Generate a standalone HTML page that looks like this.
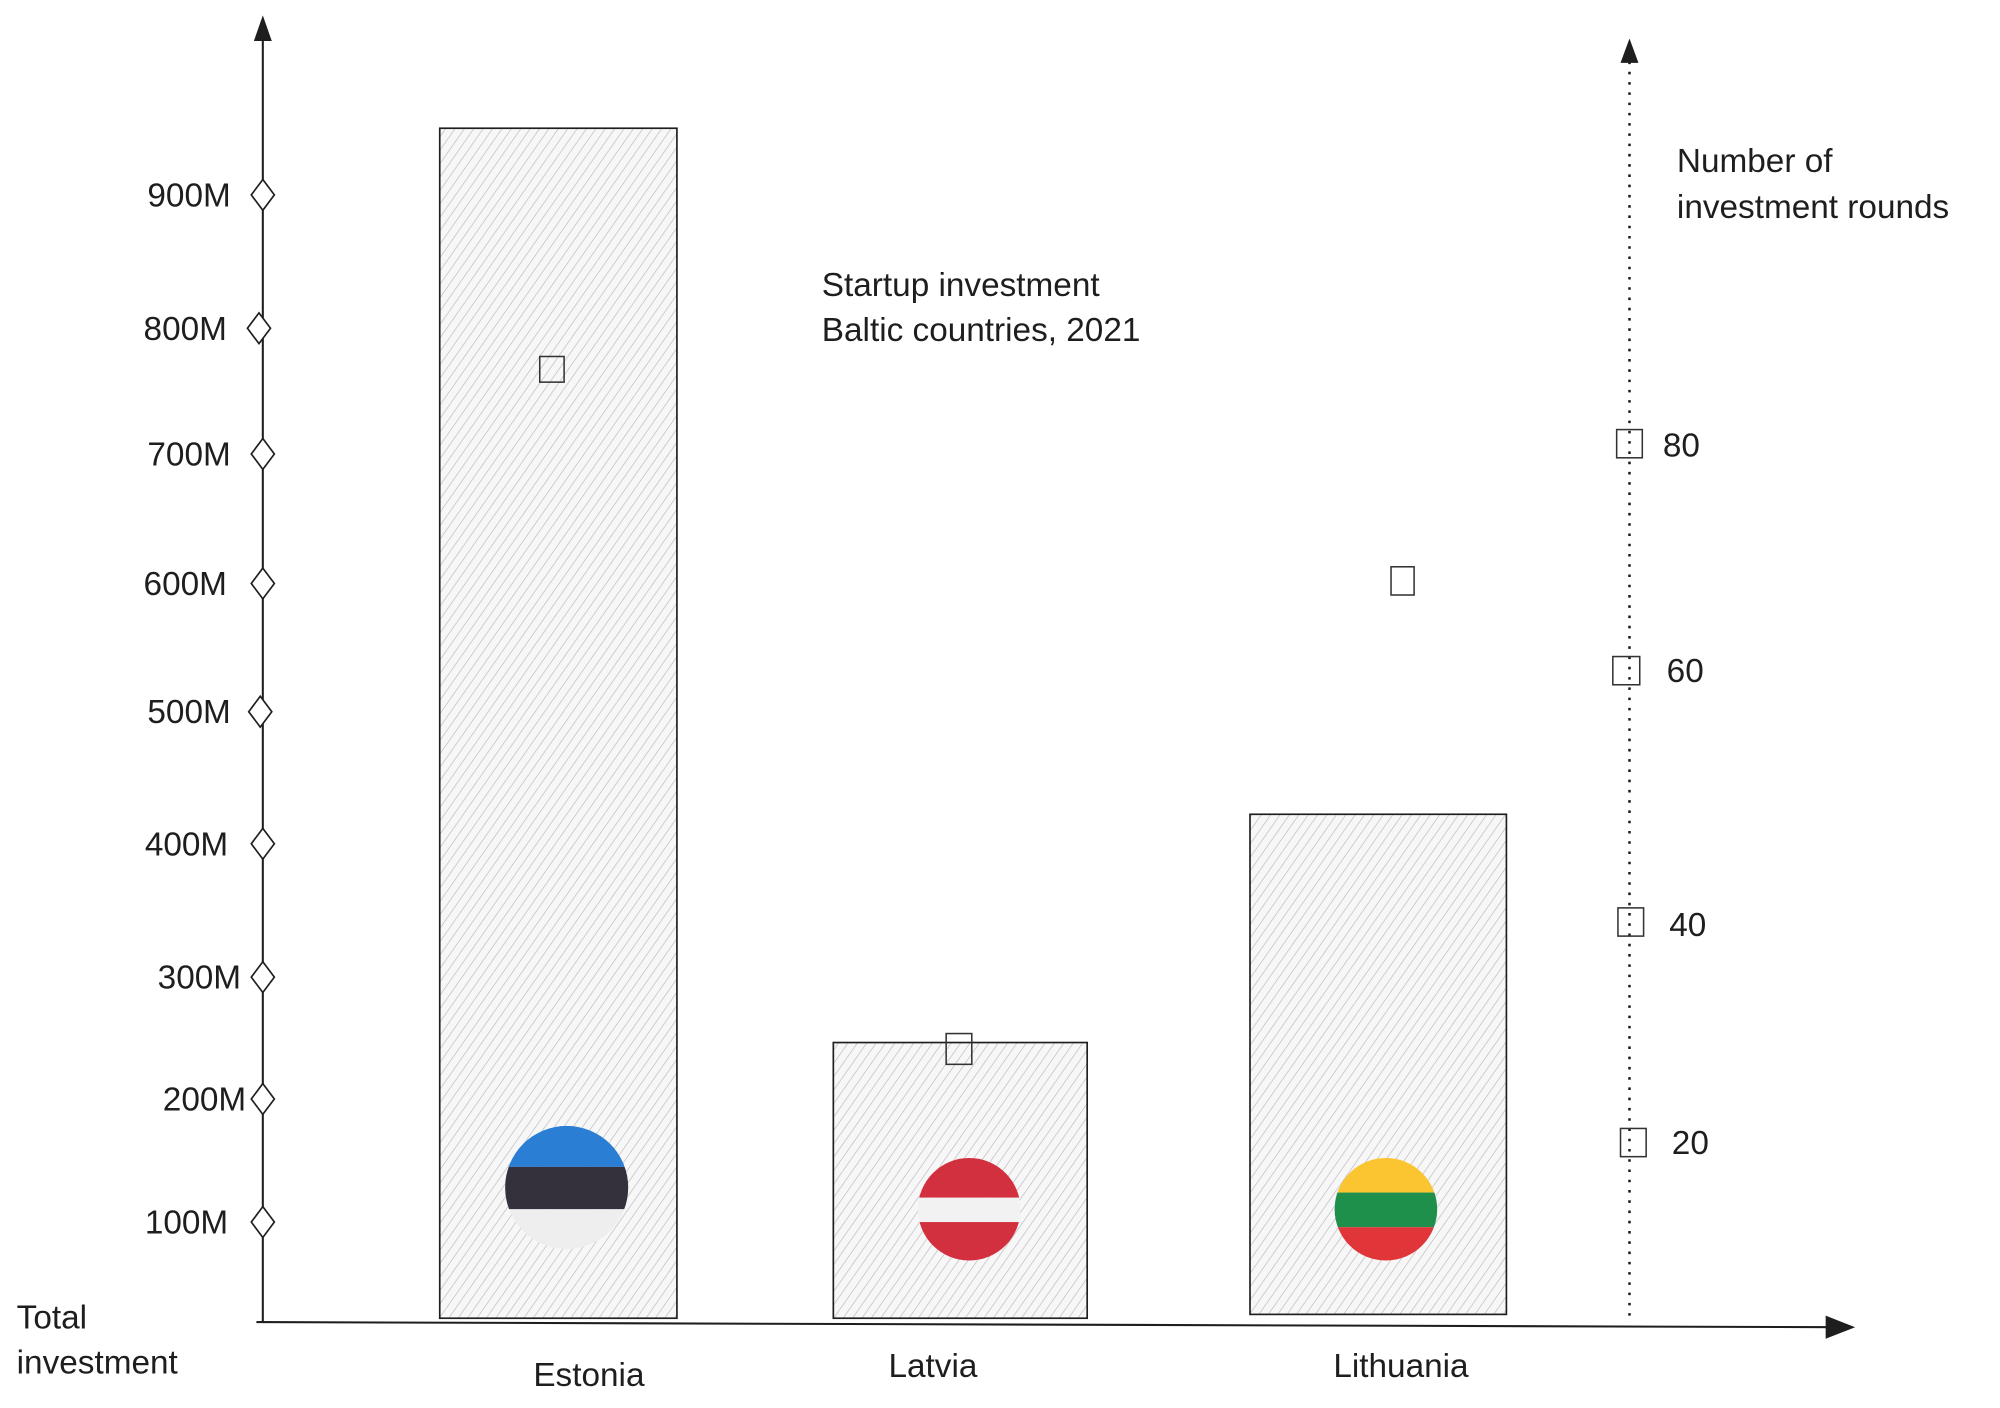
<!DOCTYPE html>
<html><head><meta charset="utf-8"><style>html,body{margin:0;padding:0;background:#fff}svg{display:block}text{font-family:"Liberation Sans",sans-serif;fill:#1e1e1e}</style></head>
<body>
<svg width="2000" height="1408" viewBox="0 0 1560 1098" preserveAspectRatio="none" xmlns="http://www.w3.org/2000/svg">
<defs>
<pattern id="h" width="6" height="6" patternUnits="userSpaceOnUse" patternTransform="rotate(35)">
<rect width="6" height="6" fill="#f7f7f8"/><line x1="0" y1="0" x2="0" y2="6" stroke="#bdbdc2" stroke-width="1.1"/></pattern>
<clipPath id="c1"><circle cx="442" cy="926" r="48"/></clipPath>
<clipPath id="c2"><circle cx="756" cy="943" r="40"/></clipPath>
<clipPath id="c3"><circle cx="1081" cy="943" r="40"/></clipPath>
</defs>
<g stroke="#1e1e1e" fill="none" stroke-width="1.6">
<line x1="205" y1="25" x2="205" y2="1031"/>
<line x1="200" y1="1031" x2="1435" y2="1035"/>
<line x1="1271" y1="48" x2="1271" y2="1030" stroke-dasharray="2,6" stroke-width="2"/>
</g>
<polygon points="205,12 198,32 212,32" fill="#1e1e1e"/>
<polygon points="1271,30 1264,49 1278,49" fill="#1e1e1e"/>
<polygon points="1447,1035 1424,1026 1424,1044" fill="#1e1e1e"/>
<g stroke="#1e1e1e" stroke-width="1.3" fill="url(#h)">
<rect x="343" y="100" width="185" height="928"/>
<rect x="650" y="813" width="198" height="215"/>
<rect x="975" y="635" width="200" height="390"/>
</g>
<g clip-path="url(#c1)"><rect x="390" y="876" width="110" height="34" fill="#2a7fd4"/><rect x="390" y="910" width="110" height="33" fill="#34313d"/><rect x="390" y="943" width="110" height="35" fill="#eeeeee"/></g>
<g clip-path="url(#c2)"><rect x="710" y="900" width="100" height="34" fill="#d3303f"/><rect x="710" y="934" width="100" height="19" fill="#f2f2f2"/><rect x="710" y="953" width="100" height="40" fill="#d3303f"/></g>
<g clip-path="url(#c3)"><rect x="1035" y="900" width="100" height="30" fill="#fbc531"/><rect x="1035" y="930" width="100" height="27" fill="#1f8f4c"/><rect x="1035" y="957" width="100" height="40" fill="#e0363a"/></g>
<g stroke="#1e1e1e" stroke-width="1.3" fill="#fff">
<path d="M205 140 L214 152 L205 164 L196 152Z"/><path d="M202 244 L211 256 L202 268 L193 256Z"/>
<path d="M205 342 L214 354 L205 366 L196 354Z"/><path d="M205 443 L214 455 L205 467 L196 455Z"/>
<path d="M203 543 L212 555 L203 567 L194 555Z"/><path d="M205 646 L214 658 L205 670 L196 658Z"/>
<path d="M205 750 L214 762 L205 774 L196 762Z"/><path d="M205 845 L214 857 L205 869 L196 857Z"/>
<path d="M205 941 L214 953 L205 965 L196 953Z"/>
</g>
<g stroke="#333" stroke-width="1.2" fill="none">
<rect x="1261" y="335" width="20" height="22"/><rect x="1258" y="512" width="21" height="22"/><rect x="1262" y="708" width="20" height="22"/><rect x="1264" y="880" width="20" height="22"/>
<rect x="421" y="278" width="19" height="20"/><rect x="1085" y="442" width="18" height="22"/><rect x="738" y="806" width="20" height="24"/>
</g>
<g font-size="26" text-anchor="end">
<text x="180" y="161">900M</text><text x="177" y="265">800M</text><text x="180" y="363">700M</text><text x="177" y="464">600M</text><text x="180" y="564">500M</text><text x="178" y="667">400M</text><text x="188" y="771">300M</text><text x="192" y="866">200M</text><text x="178" y="962">100M</text>
</g>
<g font-size="26">
<text x="1297" y="356">80</text><text x="1300" y="532">60</text><text x="1302" y="730">40</text><text x="1304" y="900">20</text>
<text x="641" y="231">Startup investment</text><text x="641" y="266">Baltic countries, 2021</text>
<text x="1308" y="134">Number of</text><text x="1308" y="170">investment rounds</text>
<text x="13" y="1036">Total</text><text x="13" y="1071">investment</text>
<text x="416" y="1081">Estonia</text><text x="693" y="1074">Latvia</text><text x="1040" y="1074">Lithuania</text>
</g>
</svg>
</body></html>
